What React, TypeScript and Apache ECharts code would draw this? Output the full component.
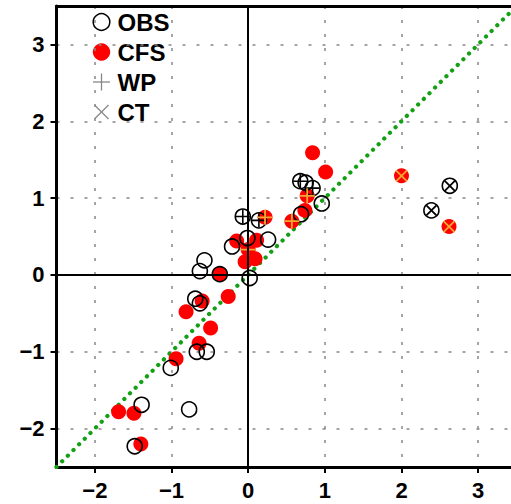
import React, { useEffect, useRef } from 'react';
import * as echarts from 'echarts';

// OBS hollow circles (no extra mark)
const obsPlain: number[][] = [
  [0.75, 1.2], [0.96, 0.93], [0.69, 0.79], [-0.01, 0.48], [0.26, 0.46],
  [-0.21, 0.37], [-0.57, 0.19], [-0.63, 0.05], [-0.37, 0.01], [0.02, -0.04],
  [-0.69, -0.31], [-0.63, -0.37], [-0.67, -1.0], [-0.54, -1.0], [-1.01, -1.21],
  [-1.39, -1.69], [-0.77, -1.75], [-1.48, -2.23],
];
// OBS with WP mark (+)
const obsWP: number[][] = [[0.68, 1.22], [0.84, 1.13], [-0.07, 0.76], [0.14, 0.71]];
// OBS with CT mark (x)
const obsCT: number[][] = [[2.63, 1.16], [2.39, 0.84]];

// CFS red dots (no extra mark)
const cfsPlain: number[][] = [
  [0.84, 1.59], [1.01, 1.34], [0.74, 0.84], [-0.15, 0.44], [0.11, 0.45],
  [-0.04, 0.17], [0.09, 0.21], [-0.37, 0.01], [-0.26, -0.28], [-0.6, -0.34],
  [-0.81, -0.48], [-0.49, -0.69], [-0.64, -0.89], [-0.94, -1.09],
  [-1.69, -1.78], [-1.49, -1.8], [-1.4, -2.2],
];
// CFS with WP mark (+)
const cfsWP: number[][] = [[0.77, 1.03], [0.57, 0.7], [0.22, 0.75], [0.0, 0.33]];
// CFS with CT mark (x)
const cfsCT: number[][] = [[2.0, 1.29], [2.62, 0.63]];

const tickValues = [-2, -1, 0, 1, 2, 3];
const axisMin = -2.5;
const axisMax = 3.5;
const diagonal: number[][] = [[-2.5, -2.5], [3.5, 3.5]];
const legendNames = ['OBS', 'CFS', 'WP', 'CT'];

const PLUS = 'path://M0,5L10,5M5,0L5,10';
const CROSS = 'path://M0,0L10,10M10,0L0,10';

const FONT = '"Liberation Sans", Arial, Helvetica, sans-serif';

export default function App() {
  const ref = useRef<HTMLDivElement>(null);
  useEffect(() => {
    if (!ref.current) return;
    const chart = echarts.init(ref.current, undefined, { renderer: 'svg' });
    const fmt = (v: number) => String(v).replace('-', '\u2212');
    const axisCommon = (isX: boolean) => ({
      type: 'value',
      min: axisMin,
      max: axisMax,
      position: isX ? 'bottom' : 'left',
      axisLine: { show: true, onZero: false, lineStyle: { color: '#000', width: 3 } },
      axisTick: { show: true, customValues: tickValues, length: 6, lineStyle: { color: '#000', width: 2 } },
      axisLabel: {
        customValues: tickValues,
        formatter: fmt,
        fontSize: 22,
        fontWeight: 'bold',
        color: '#000',
        fontFamily: FONT,
        margin: 12,
      },
      splitLine: { show: true, lineStyle: { color: '#888', width: 1.5, type: [3, 11] } },
    });
    const legendY = [22, 52, 82, 112];
    const lx = 101.5;
    const graphics: any[] = [
      { type: 'circle', shape: { cx: lx, cy: legendY[0], r: 8.3 }, style: { fill: 'none', stroke: '#000', lineWidth: 1.5 } },
      { type: 'circle', shape: { cx: lx, cy: legendY[1], r: 8.7 }, style: { fill: '#ff0000' } },
      { type: 'line', shape: { x1: lx - 8.5, y1: legendY[2], x2: lx + 8.5, y2: legendY[2] }, style: { stroke: '#888', lineWidth: 1.3 } },
      { type: 'line', shape: { x1: lx, y1: legendY[2] - 8.5, x2: lx, y2: legendY[2] + 8.5 }, style: { stroke: '#888', lineWidth: 1.3 } },
      { type: 'line', shape: { x1: lx - 7, y1: legendY[3] - 7, x2: lx + 7, y2: legendY[3] + 7 }, style: { stroke: '#888', lineWidth: 1.3 } },
      { type: 'line', shape: { x1: lx + 7, y1: legendY[3] - 7, x2: lx - 7, y2: legendY[3] + 7 }, style: { stroke: '#888', lineWidth: 1.3 } },
      ...legendNames.map((n, i) => ({
        type: 'text',
        x: 117.5,
        y: legendY[i],
        style: { text: n, fontSize: 24, fontWeight: 'bold', fontFamily: FONT, fill: '#000', verticalAlign: 'middle', align: 'left' },
      })),
    ];
    chart.setOption({
      animation: false,
      grid: { left: 56.5, top: 6, width: 460, height: 461, containLabel: false, outerBoundsMode: 'none' },
      xAxis: [
        axisCommon(true),
        {
          type: 'value', min: axisMin, max: axisMax, position: 'top',
          axisLine: { show: true, onZero: false, lineStyle: { color: '#000', width: 3 } },
          axisTick: { show: false }, axisLabel: { show: false }, splitLine: { show: false },
        },
      ],
      yAxis: [axisCommon(false)],
      graphic: graphics,
      series: [
        {
          type: 'line', data: diagonal, symbol: 'none', z: 1, silent: true,
          lineStyle: { color: '#14a014', width: 4.2, type: [0.1, 7.9], cap: 'round' },
        },
        {
          name: 'CFS', type: 'scatter', z: 2, symbol: 'circle', symbolSize: 15,
          data: [...cfsPlain, ...cfsWP, ...cfsCT],
          itemStyle: { color: '#ff0000', opacity: 1 },
        },
        {
          name: 'OBS', type: 'scatter', z: 3, symbol: 'circle', symbolSize: 15,
          data: [...obsPlain, ...obsWP, ...obsCT],
          itemStyle: { color: 'transparent', borderColor: '#000', borderWidth: 1.6, opacity: 1 },
        },
        {
          name: 'WP', type: 'scatter', z: 4, symbol: PLUS, symbolSize: 14, data: obsWP,
          itemStyle: { color: 'none', borderColor: '#000', borderWidth: 1.6, opacity: 1 },
        },
        {
          name: 'CT', type: 'scatter', z: 4, symbol: CROSS, symbolSize: 10, data: obsCT,
          itemStyle: { color: 'none', borderColor: '#000', borderWidth: 1.8, opacity: 1 },
        },
        {
          name: 'WP', type: 'scatter', z: 4, symbol: PLUS, symbolSize: 15, data: cfsWP,
          itemStyle: { color: 'none', borderColor: '#f0a830', borderWidth: 1.8, opacity: 1 },
        },
        {
          name: 'CT', type: 'scatter', z: 4, symbol: CROSS, symbolSize: 11, data: cfsCT,
          itemStyle: { color: 'none', borderColor: '#f0a830', borderWidth: 1.8, opacity: 1 },
        },
        {
          type: 'scatter', data: [], z: 5, silent: true,
          markLine: {
            silent: true, symbol: ['none', 'none'], label: { show: false },
            lineStyle: { color: '#000', width: 2, type: 'solid' },
            data: [{ xAxis: 0 }, { yAxis: 0 }],
          },
        },
      ],
    });
    return () => chart.dispose();
  }, []);
  return (
    <div
      ref={ref}
      style={{ position: 'fixed', left: 0, top: 0, width: 511, height: 504, background: '#fff' }}
    />
  );
}
